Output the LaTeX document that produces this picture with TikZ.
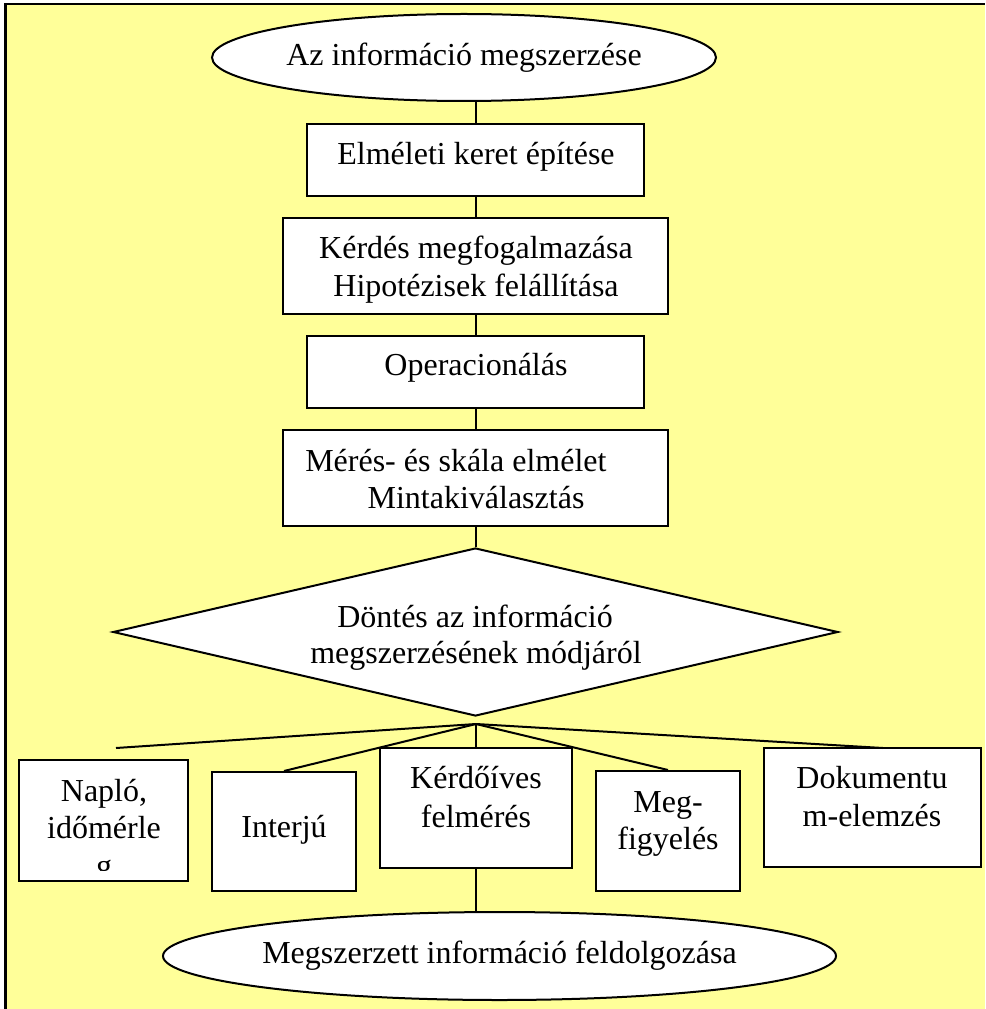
\documentclass[tikz,border=0pt]{standalone}
\usepackage{fontspec}
\setmainfont{Liberation Serif}
\usetikzlibrary{shapes.geometric}
\definecolor{panel}{HTML}{FFFF99}

\begin{document}
\begin{tikzpicture}[x=0.75pt, y=-0.75pt,
  every node/.style={font=\fontsize{24}{28.5}\selectfont},
  box/.style={draw, fill=white, line width=1.5pt, rectangle, inner sep=0pt},
  oval/.style={draw, fill=white, line width=1.5pt, ellipse, inner sep=0pt},
  choice/.style={draw, fill=white, line width=1.5pt, diamond, inner sep=0pt},
  txt/.style={anchor=base, inner sep=0pt},
  link/.style={line width=1.5pt}]

% page and yellow panel
\useasboundingbox (0,0) rectangle (985,1009);
\fill[panel] (5,3) rectangle (985,1009);
\draw[line width=1.6pt] (5.5,1009) -- (5.5,4) -- (985,4);

% main column
\node[oval, minimum width={504*0.75pt}, minimum height={87*0.75pt}] (e1) at (464,57.5) {Az információ megszerzése};
\node[box, minimum width={337*0.75pt}, minimum height={72*0.75pt}] (b1) at (475.5,160) {};
\node[box, minimum width={385*0.75pt}, minimum height={96*0.75pt}] (b2) at (475.5,266) {};
\node[box, minimum width={337*0.75pt}, minimum height={72*0.75pt}] (b3) at (475.5,372) {};
\node[box, minimum width={385*0.75pt}, minimum height={96*0.75pt}] (b4) at (475.5,478) {};
\node[choice, minimum width={725*0.75pt}, minimum height={168*0.75pt}] (dm) at (475.5,632) {};

\node[txt] (b1t) at (476,165) {Elméleti keret építése};
\node[txt] (b2t) at (476,258) {Kérdés megfogalmazása};
\node[txt] (b2u) at (476,296) {Hipotézisek felállítása};
\node[txt] (b3t) at (476,375) {Operacionálás};
\node[txt, anchor=base west] (b4t) at (305,471) {Mérés- és skála elmélet};
\node[txt] (b4u) at (476,508) {Mintakiválasztás};
\node[txt] (dmt) at (475,627) {Döntés az információ};
\node[txt] (dmu) at (476,663) {megszerzésének módjáról};

% method boxes
\node[box, minimum width={169*0.75pt}, minimum height={121*0.75pt}] (n1) at (103.5,820.5) {};
\node[box, minimum width={144*0.75pt}, minimum height={119*0.75pt}] (n2) at (284,831.5) {};
\node[box, minimum width={192*0.75pt}, minimum height={120*0.75pt}] (n3) at (476,808) {};
\node[box, minimum width={144*0.75pt}, minimum height={120*0.75pt}] (n4) at (668,831) {};
\node[box, minimum width={217*0.75pt}, minimum height={119*0.75pt}] (n5) at (872.5,807.5) {};

\node[txt] (n1t) at (104,801) {Napló,};
\node[txt] (n1u) at (104,838) {időmérle};
\begin{scope}
  \clip (19,760) rectangle (188,870.5);
  \node[txt] (n1v) at (104,876) {g};
\end{scope}
\node[txt] (n2t) at (284,837) {Interjú};
\node[txt] (n3t) at (476,788) {Kérdőíves};
\node[txt] (n3u) at (476,827) {felmérés};
\node[txt] (n4t) at (668,812) {Meg-};
\node[txt] (n4u) at (668,849) {figyelés};
\node[txt] (n5t) at (872,788) {Dokumentu};
\node[txt] (n5u) at (872,826) {m-elemzés};

\node[oval, minimum width={673*0.75pt}, minimum height={88*0.75pt}] (e2) at (499.5,956) {Megszerzett információ feldolgozása};

% connectors
\draw[link] (e1.south -| b1.north) -- (b1.north);
\draw[link] (b1.south) -- (b2.north);
\draw[link] (b2.south) -- (b3.north);
\draw[link] (b3.south) -- (b4.north);
\draw[link] (b4.south) -- (dm.north);

\coordinate (fan) at (476,724);
\coordinate (freeL) at (116,748);
\coordinate (dokin) at (883,748);
\draw[link] (fan) -- (freeL);
\draw[link] (fan) -- (n2.north);
\draw[link] (fan) -- (n3.north);
\draw[link] (fan) -- (n4.north);
\draw[link] (fan) -- (dokin);
\draw[link] (n3.south) -- (n3.south |- e2.north);
\end{tikzpicture}
\end{document}
